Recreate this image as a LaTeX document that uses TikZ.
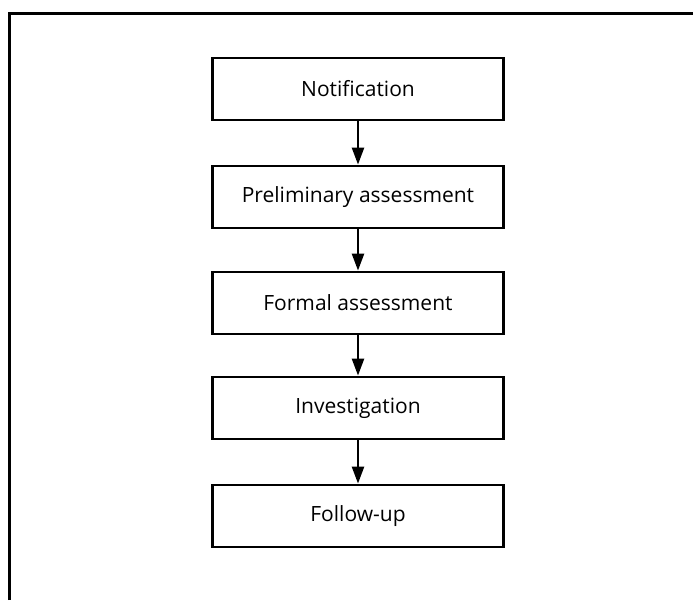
\documentclass[tikz,border=0pt]{standalone}
\usepackage{fontspec}
\setmainfont{Open Sans}
\usetikzlibrary{shapes.geometric, arrows.meta}

\begin{document}
\begin{tikzpicture}[x=1pt, y=1pt]
        \tikzstyle{stage} = [rectangle, minimum width=291pt, minimum height=62pt, text centered, draw=black, line width=2.8pt, font=\fontsize{21}{24}\selectfont];
        \tikzstyle{arrow} = [line width=2.4pt, -{Triangle[length=17pt, width=12pt]}];

        \useasboundingbox (0,0) rectangle (693,-600);
        \draw[line width=3pt] (9.5,-600) -- (9.5,-13.5) -- (693,-13.5);

        \node(notification) [stage] at (358,-89) {Notification};
        \node(preliminary) [stage, below of=notification, node distance=108pt] {Preliminary assessment};
        \node(formal) [stage, below of=preliminary, node distance=106pt] {Formal assessment};
        \node(investigation) [stage, below of=formal, node distance=105pt] {Investigation};
        \node(followup) [stage, below of=investigation, node distance=108pt] {Follow-up};

        \draw[arrow] (notification) -- (preliminary);
        \draw[arrow] (preliminary) -- (formal);
        \draw[arrow] (formal) -- (investigation);
        \draw[arrow] (investigation) -- (followup);

    \end{tikzpicture}
\end{document}
